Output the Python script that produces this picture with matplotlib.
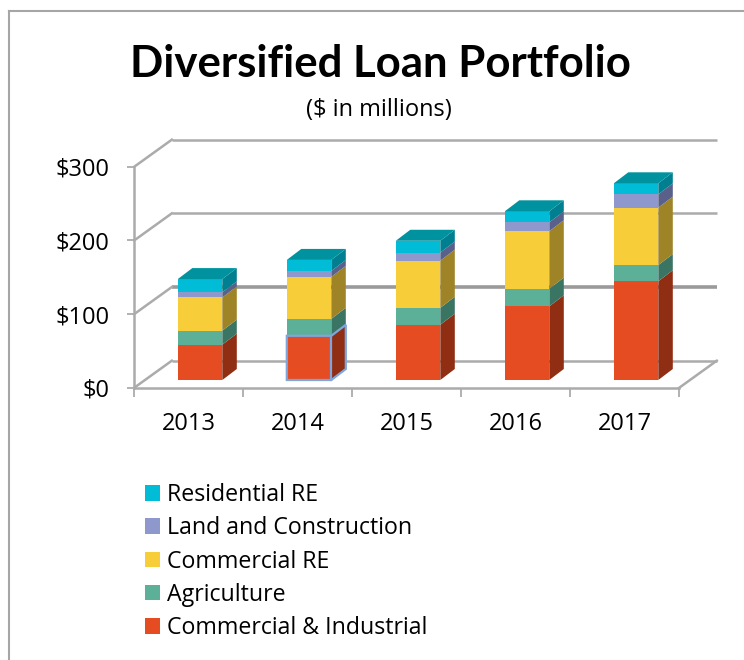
import matplotlib
matplotlib.use('Agg')
import matplotlib.pyplot as plt
from matplotlib.patches import Polygon, Rectangle
from matplotlib.lines import Line2D

plt.rcParams['font.family'] = ['Open Sans', 'DejaVu Sans']

years = ['2013', '2014', '2015', '2016', '2017']
ci = [48, 60, 75, 100, 134]
agri = [19, 23, 23, 24, 22]
cre = [45, 57, 64, 78, 78]
land = [7, 8, 11, 12, 18]
resi = [18, 15, 16, 15, 15]
series_names = ['Commercial & Industrial', 'Agriculture', 'Commercial RE',
                'Land and Construction', 'Residential RE']
y_ticks = [0, 100, 200, 300]

FRONT = ['#E64C21', '#5CB097', '#F7CE3A', '#8E98CC', '#00BCD6']
SIDE = ['#8F2E12', '#3A7564', '#9E8427', '#59608A', '#007F90']
TOP = '#00939F'
GRID = '#ABABAB'

W, H = 744, 660
PX_X = 109
PX_Y = 221
fig = plt.figure(figsize=(W / 100, H / 100), dpi=100)
fig.patch.set_facecolor('white')

# axes rectangle is the front plane of the 3d box
ax = fig.add_axes([134.3 / W, 1 - 387.7 / H, 545 / W, PX_Y / H])
ax.set_xlim(0, 5)
ax.set_ylim(0, 300)
ax.patch.set_visible(False)

# fake depth, in data units
DX = 37.5 / PX_X
DY = 27 / PX_Y * 300
BAR_DX = 14.5 / PX_X
BAR_DY = 11 / PX_Y * 300
BAR_W = 44.5 / PX_X
BAR_LEFT = 43.5 / PX_X
BAR_Y0 = 7.7 / PX_Y * 300

for spine in ['top', 'right']:
    ax.spines[spine].set_visible(False)
for spine in ['left', 'bottom']:
    ax.spines[spine].set_color(GRID)
    ax.spines[spine].set_linewidth(1.8)

ax.set_xticks(range(6))
ax.set_xticklabels([])
ax.set_xticks([i + 0.5 for i in range(5)], minor=True)
ax.set_xticklabels(years, minor=True, fontsize=17)
ax.tick_params(axis='x', which='major', length=6.5, width=1.3, color=GRID)
ax.tick_params(axis='x', which='minor', length=0, pad=17.5)
ax.set_yticks(y_ticks)
ax.set_yticklabels(['$' + str(v) for v in y_ticks], fontsize=17)
ax.tick_params(axis='y', length=5, width=1.3, color=GRID, pad=13)

# walls and floor
for v in y_ticks:
    lw = 2.6 if v == 100 else 1.8
    col = '#9A9A9A' if v == 100 else GRID
    ax.plot([DX, 5 + DX], [v + DY, v + DY], color=col, lw=lw, clip_on=False, zorder=1,
            solid_capstyle='butt')
    ax.plot([0, DX], [v, v + DY], color=GRID, lw=1.8, clip_on=False, zorder=1)
ax.plot([5, 5 + DX], [0, DY], color=GRID, lw=1.8, clip_on=False, zorder=1)

# stacked boxes: front face, side face, then the lid on the last segment
for i in range(5):
    x0 = i + BAR_LEFT
    x1 = x0 + BAR_W
    base = BAR_Y0
    for j, vals in enumerate([ci, agri, cre, land, resi]):
        top = base + vals[i]
        ax.add_patch(Rectangle((x0, base), BAR_W, vals[i], fc=FRONT[j], ec='none',
                               clip_on=False, zorder=3))
        ax.add_patch(Polygon([(x1, base), (x1 + BAR_DX, base + BAR_DY),
                              (x1 + BAR_DX, top + BAR_DY), (x1, top)],
                             fc=SIDE[j], ec='none', clip_on=False, zorder=3))
        base = top
    ax.add_patch(Polygon([(x0, base), (x1, base), (x1 + BAR_DX, base + BAR_DY),
                          (x0 + BAR_DX, base + BAR_DY)],
                         fc=TOP, ec='none', clip_on=False, zorder=3))

# selection outline around the 2014 C&I block
x0 = 1 + BAR_LEFT
x1 = x0 + BAR_W
top = BAR_Y0 + ci[1]
ax.add_patch(Polygon([(x0, BAR_Y0), (x1, BAR_Y0), (x1 + BAR_DX, BAR_Y0 + BAR_DY),
                      (x1 + BAR_DX, top + BAR_DY), (x1, top), (x0, top)],
                     fc='none', ec='#7FA6DC', lw=1.6, clip_on=False, zorder=4))
ax.plot([x1, x1], [BAR_Y0, top], color='#7FA6DC', lw=1.6, clip_on=False, zorder=4)

fig.text(380 / W, 1 - 64 / H, 'Diversified Loan Portfolio', fontsize=31.5, fontweight='bold',
         family=['Lato', 'DejaVu Sans'], ha='center', va='center', color='black')
fig.text(379 / W, 1 - 110 / H, '($ in millions)', fontsize=17, ha='center', va='center',
         color='black')

# legend, top entry first
handles = [Rectangle((0, 0), 1, 1, fc=c, ec='none') for c in FRONT][::-1]
leg = fig.legend(handles, series_names[::-1], loc='upper left',
                 bbox_to_anchor=(138 / W, 1 - 476 / H), frameon=False, fontsize=16.7,
                 handlelength=0.65, handleheight=0.65, handletextpad=0.3, labelspacing=0.40,
                 borderpad=0.3, borderaxespad=0)

# outer chart frame, open on the right
for xs, ys in [([9, 9], [11, 660]), ([9, 744], [11, 11])]:
    fig.add_artist(Line2D([x / W for x in xs], [1 - y / H for y in ys], color='#A6A6A6', lw=1.5))

fig.savefig('out.png', dpi=100)
